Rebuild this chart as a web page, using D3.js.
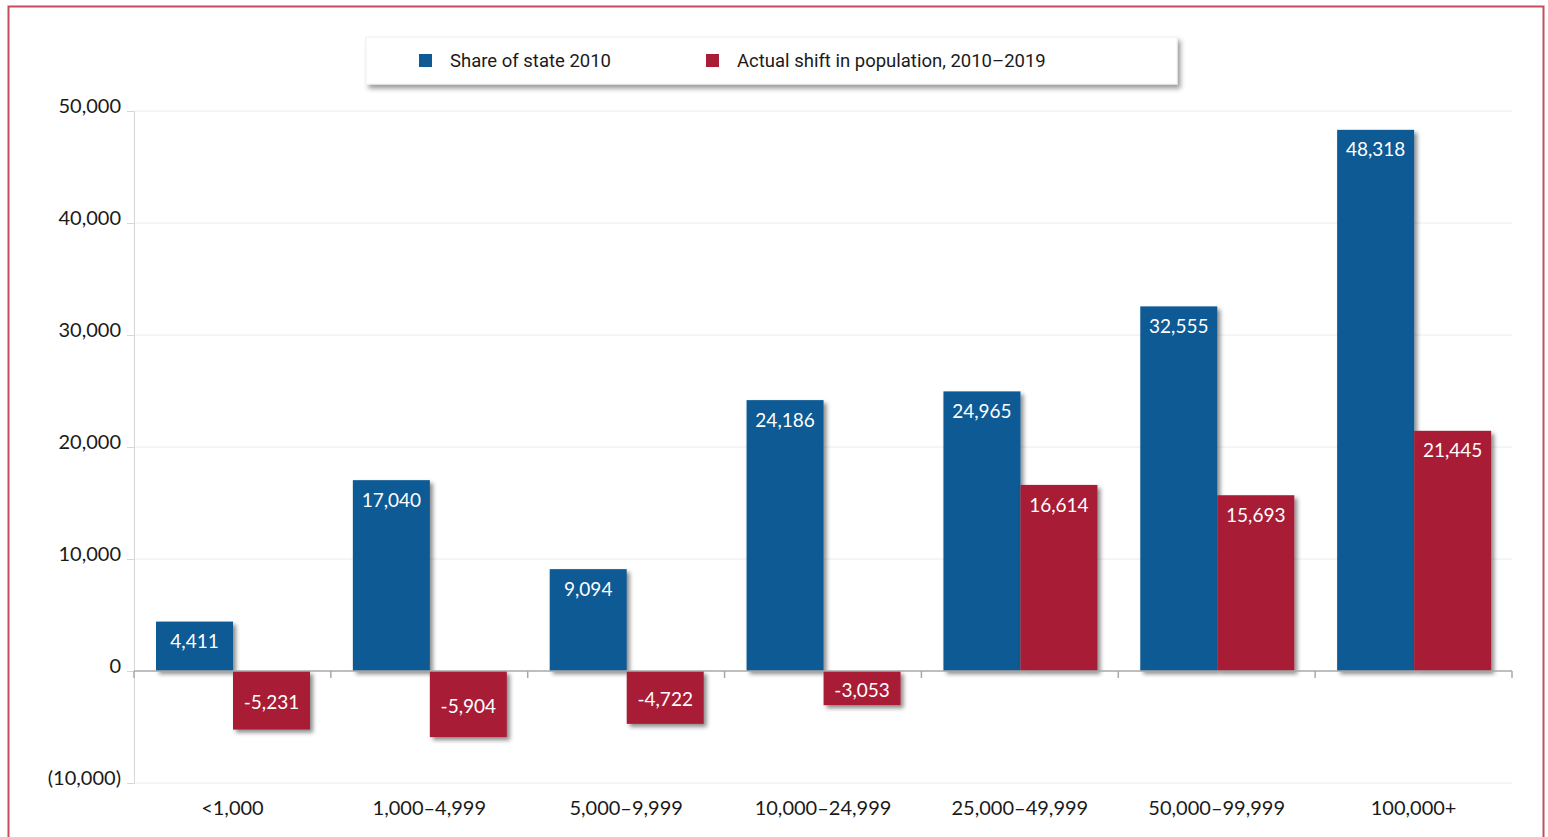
<!DOCTYPE html>
<html>
<head>
<meta charset="utf-8">
<script src="https://cdn.jsdelivr.net/npm/d3@7"></script>
<style>
  html, body { margin: 0; padding: 0; background: #fff; }
  svg { display: block; }
  .tick text { font-family: Lato, "Open Sans", sans-serif; fill: #1a1a1a; }
</style>
</head>
<body>
<svg id="chart"></svg>
<script>
// Datos
const categories = ['<1,000', '1,000–4,999', '5,000–9,999', '10,000–24,999', '25,000–49,999', '50,000–99,999', '100,000+'];
const shareOfState = [4411, 17040, 9094, 24186, 24965, 32555, 48318];
const actualShift = [-5231, -5904, -4722, -3053, 16614, 15693, 21445];
const seriesNames = ['Share of state 2010', 'Actual shift in population, 2010–2019'];
const yTicks = [-10000, 0, 10000, 20000, 30000, 40000, 50000];

const width = 1548;
const height = 837;
const colors = ['#0f5a94', '#a81e36'];

// Formato con guion normal
const fmt = v => d3.format(',')(v).replace('−', '-');

const svg = d3.select('#chart')
    .attr('width', width)
    .attr('height', height);

// Sombra
const defs = svg.append('defs');
defs.append('filter').attr('id', 'shadow')
    .attr('x', '-20%').attr('y', '-20%').attr('width', '150%').attr('height', '150%')
    .append('feDropShadow')
    .attr('dx', 3).attr('dy', 3).attr('stdDeviation', 2.2)
    .attr('flood-color', '#000').attr('flood-opacity', 0.45);
defs.append('filter').attr('id', 'legend-shadow')
    .attr('x', '-5%').attr('y', '-30%').attr('width', '110%').attr('height', '180%')
    .append('feDropShadow')
    .attr('dx', 3).attr('dy', 4).attr('stdDeviation', 2.5)
    .attr('flood-color', '#000').attr('flood-opacity', 0.4);

// Marco
svg.append('rect')
    .attr('x', 8.5).attr('y', 6.5)
    .attr('width', 1535).attr('height', 850)
    .attr('fill', 'none')
    .attr('stroke', '#c24e5e')
    .attr('stroke-width', 2);

// Escalas
const x0 = d3.scaleBand()
    .domain(categories)
    .range([134, 1512]);

const x1 = d3.scaleBand()
    .domain([0, 1])
    .range([22, 176]);

const y = d3.scaleLinear()
    .domain([-10000, 50000])
    .range([783, 111]);

// Rejilla
svg.append('g')
    .selectAll('line')
    .data(yTicks.filter(d => d !== 0))
    .enter().append('line')
    .attr('x1', 134).attr('x2', 1512)
    .attr('y1', d => y(d)).attr('y2', d => y(d))
    .attr('stroke', '#ececec');

// Eje Y
const yAxis = svg.append('g')
    .attr('transform', 'translate(134,0)')
    .call(d3.axisLeft(y)
        .tickValues(yTicks)
        .tickSize(7)
        .tickPadding(6)
        .tickFormat(d => d < 0 ? '(' + fmt(-d) + ')' : fmt(d)));
yAxis.select('.domain').attr('stroke', '#d6d6d6');
yAxis.selectAll('.tick line').attr('stroke', '#d6d6d6');
yAxis.selectAll('.tick text')
    .attr('font-size', 20)
    .attr('dy', '0.05em');

// Barras
const rows = categories.map((c, i) => ({ category: c, values: [shareOfState[i], actualShift[i]] }));

const group = svg.append('g')
    .selectAll('g')
    .data(rows)
    .enter().append('g')
    .attr('transform', d => `translate(${x0(d.category)},0)`);

const bar = group.selectAll('g')
    .data(d => d.values.map((v, k) => ({ k, v })))
    .enter().append('g');

bar.append('rect')
    .attr('x', d => x1(d.k))
    .attr('width', x1.bandwidth())
    .attr('y', d => y(Math.max(0, d.v)))
    .attr('height', d => Math.abs(y(d.v) - y(0)))
    .attr('fill', d => colors[d.k])
    .attr('filter', 'url(#shadow)');

bar.append('text')
    .attr('x', d => x1(d.k) + x1.bandwidth() / 2)
    .attr('y', d => d.v >= 0 ? y(d.v) + 20 : (y(0) + y(d.v)) / 2 + 2)
    .attr('dy', '0.35em')
    .attr('text-anchor', 'middle')
    .attr('font-family', 'Lato, sans-serif')
    .attr('font-size', 19)
    .attr('fill', '#fff')
    .text(d => fmt(d.v));

// Línea cero con marcas
svg.append('line')
    .attr('x1', 134).attr('x2', 1512)
    .attr('y1', y(0)).attr('y2', y(0))
    .attr('stroke', '#a8a8a8').attr('stroke-width', 1.5);
svg.append('g')
    .selectAll('line')
    .data(categories.map(c => x0(c)).concat([x0.range()[1]]))
    .enter().append('line')
    .attr('x1', d => d).attr('x2', d => d)
    .attr('y1', y(0)).attr('y2', y(0) + 7)
    .attr('stroke', '#a8a8a8').attr('stroke-width', 1.5);

// Eje X (etiquetas)
const xAxis = svg.append('g')
    .attr('transform', `translate(0,${y(-10000)})`)
    .call(d3.axisBottom(x0).tickSize(0).tickPadding(18));
xAxis.select('.domain').remove();
xAxis.selectAll('.tick text').attr('font-size', 20);

// Leyenda
const legend = svg.append('g');
legend.append('rect')
    .attr('x', 366).attr('y', 37)
    .attr('width', 811).attr('height', 47)
    .attr('fill', '#fff')
    .attr('stroke', '#f0f0f0')
    .attr('filter', 'url(#legend-shadow)');

const legendX = [419, 706];
const legendItem = legend.selectAll('.legend-item')
    .data(seriesNames)
    .enter().append('g')
    .attr('class', 'legend-item')
    .attr('transform', (d, i) => `translate(${legendX[i]},54)`);

legendItem.append('rect')
    .attr('width', 13).attr('height', 13)
    .attr('fill', (d, i) => colors[i]);

legendItem.append('text')
    .attr('x', 31).attr('y', 7)
    .attr('dy', '0.35em')
    .attr('font-family', 'Roboto, sans-serif')
    .attr('font-size', 18.5)
    .attr('fill', '#1a1a1a')
    .text(d => d);
</script>
</body>
</html>
